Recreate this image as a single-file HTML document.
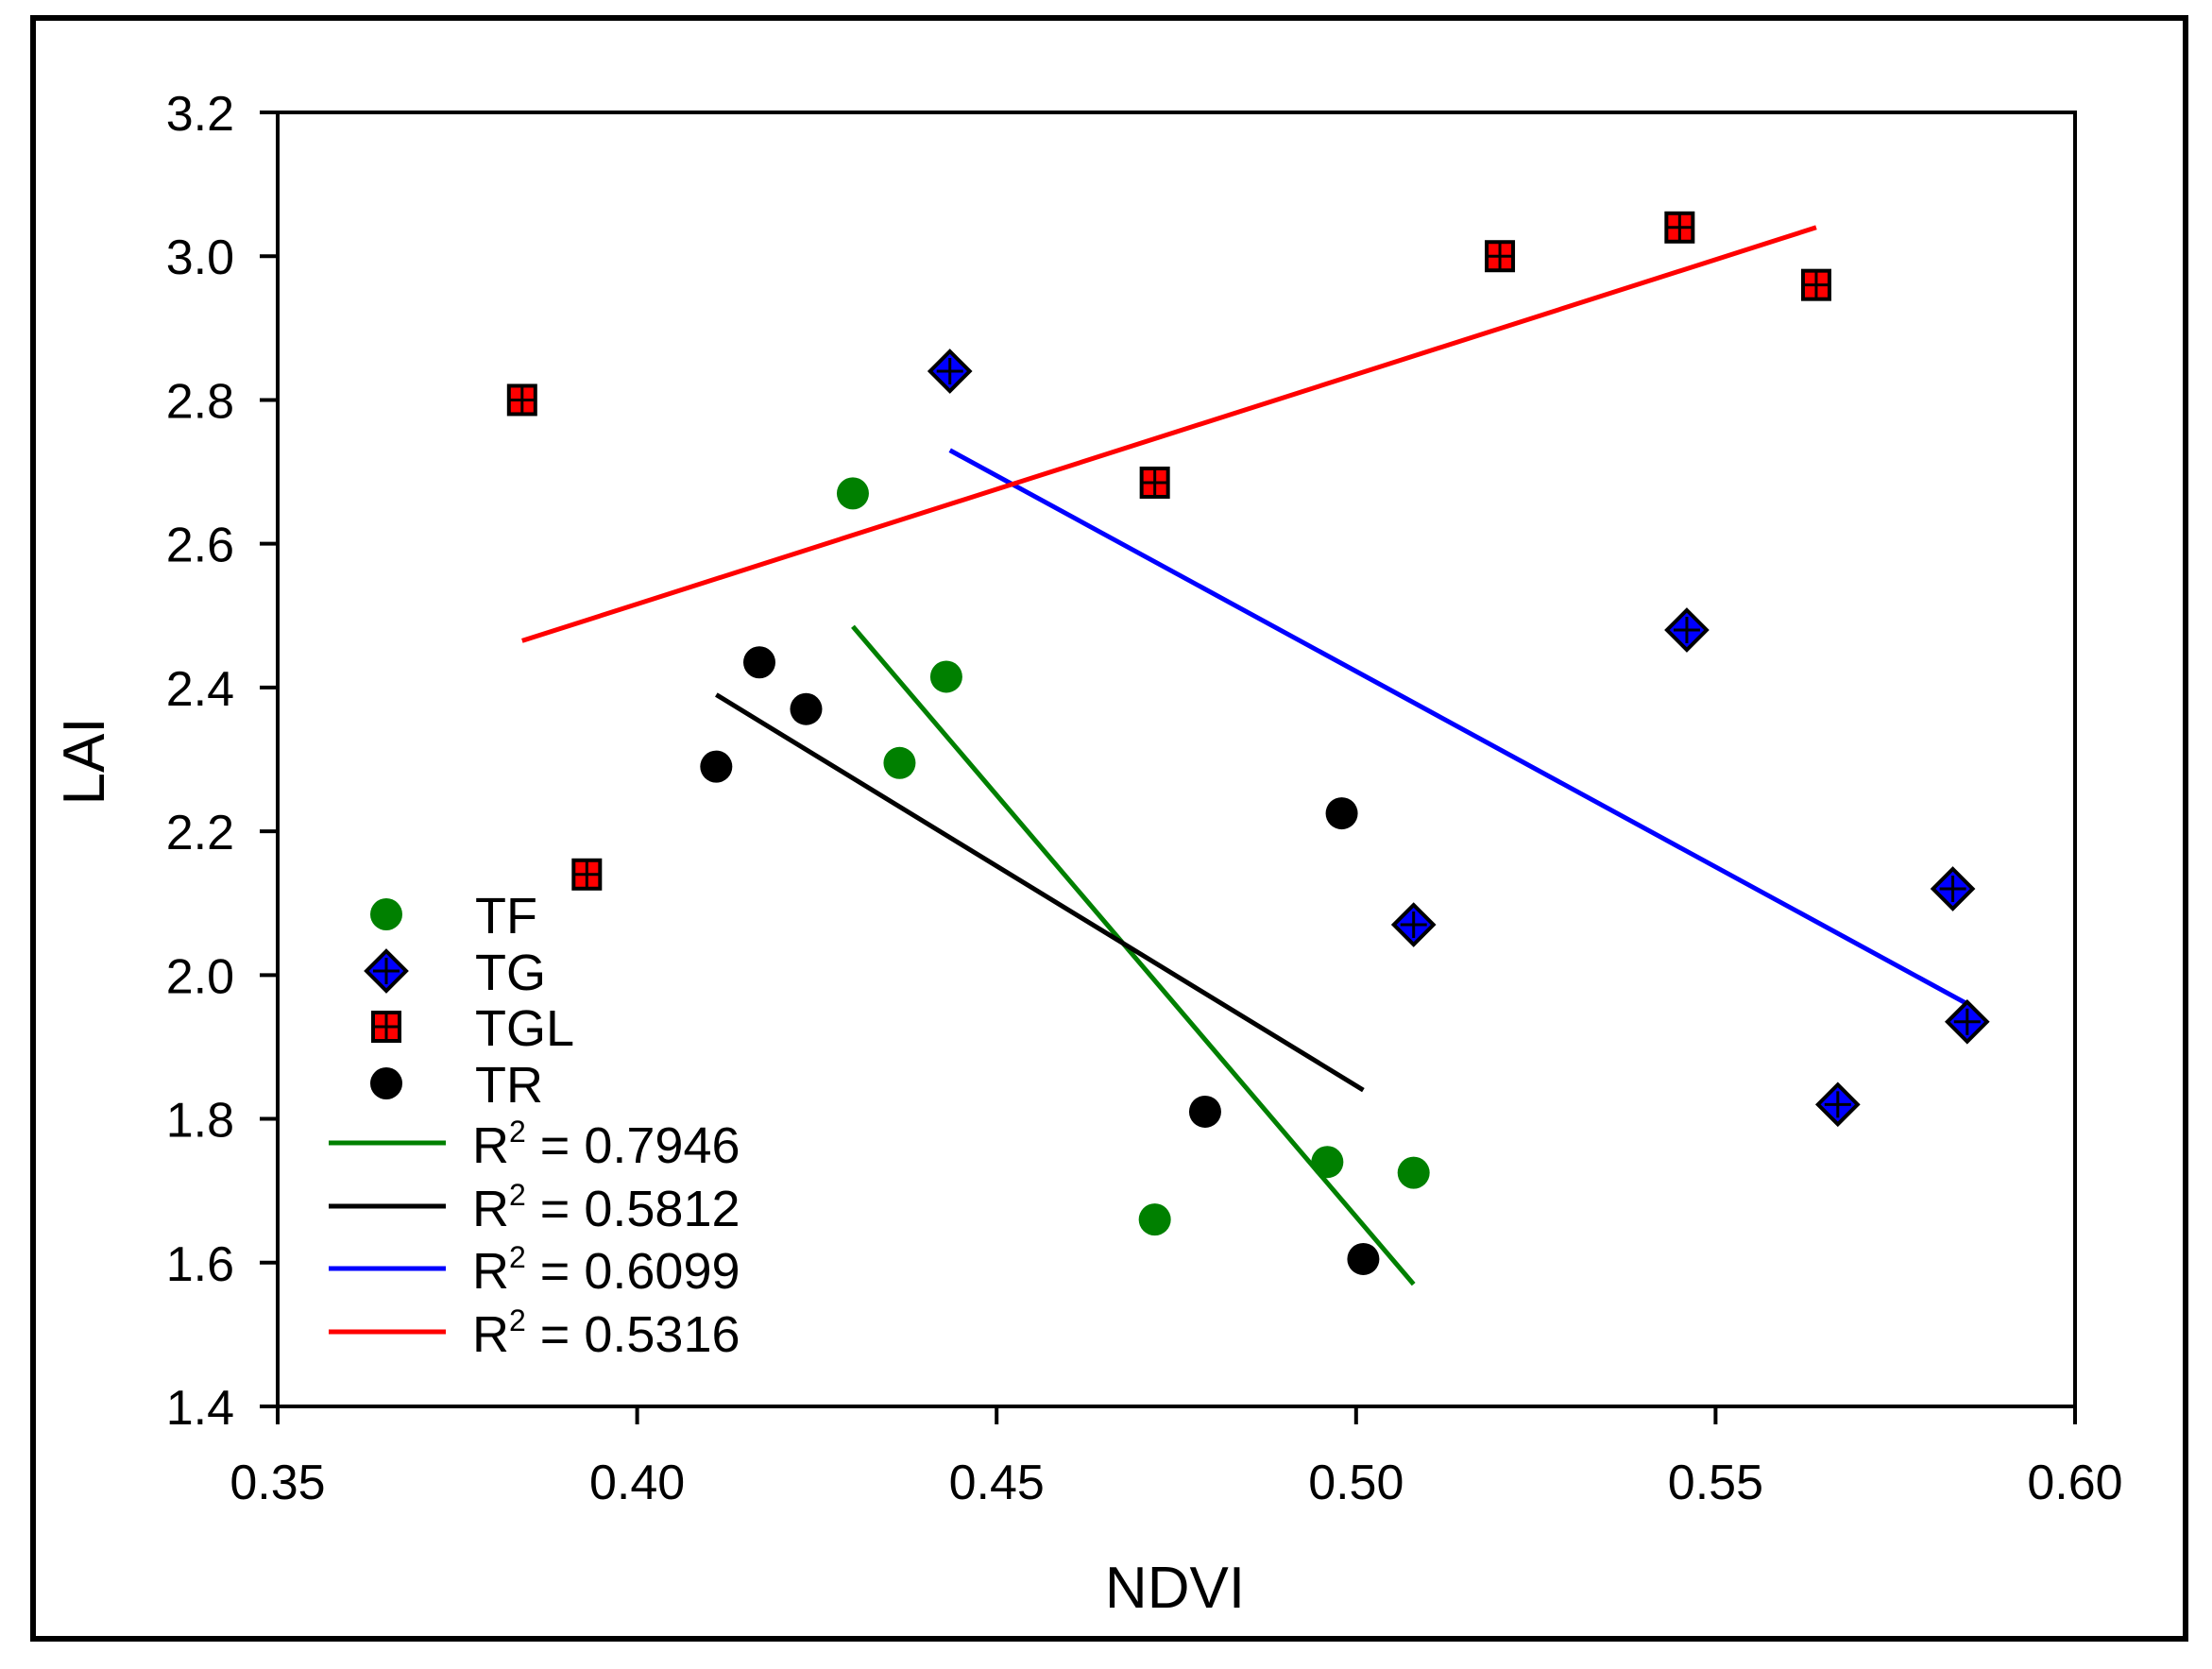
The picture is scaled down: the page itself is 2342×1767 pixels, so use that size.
<!DOCTYPE html>
<html><head><meta charset="utf-8"><style>
html,body{margin:0;padding:0;background:#fff;}
svg{display:block;font-family:"Liberation Sans",Arial,sans-serif;}
</style></head><body>
<svg id="chart" width="2342" height="1767" viewBox="0 0 2342 1767">
<rect x="35" y="19" width="2279" height="1716" fill="none" stroke="#000" stroke-width="6"/>
<rect x="294" y="119" width="1903" height="1370" fill="none" stroke="#000" stroke-width="4"/>
<g id="axes"></g><g id="lines"></g><g id="marks"></g><g id="legend"></g>
<text x="1244" y="1702" font-size="62" text-anchor="middle">NDVI</text>
<text x="110" y="806" font-size="62" text-anchor="middle" transform="rotate(-90 110 806)">LAI</text>
</svg>
<script>
const xTicks=[0.35,0.40,0.45,0.50,0.55,0.60];
const yTicks=[1.4,1.6,1.8,2.0,2.2,2.4,2.6,2.8,3.0,3.2];
const tfX=[0.430,0.4365,0.443,0.472,0.496,0.508];
const tfY=[2.67,2.295,2.415,1.66,1.74,1.725];
const tgX=[0.4435,0.508,0.546,0.567,0.583,0.585];
const tgY=[2.84,2.07,2.48,1.82,2.12,1.935];
const tglX=[0.384,0.393,0.472,0.520,0.545,0.564];
const tglY=[2.80,2.14,2.685,3.00,3.04,2.96];
const trX=[0.411,0.417,0.4235,0.479,0.498,0.501];
const trY=[2.29,2.435,2.37,1.81,2.225,1.605];
const fitTF=[[0.430,2.485],[0.508,1.57]];
const fitTR=[[0.411,2.39],[0.501,1.84]];
const fitTG=[[0.4435,2.73],[0.585,1.96]];
const fitTGL=[[0.384,2.465],[0.564,3.04]];
const r2Labels=["0.7946","0.5812","0.6099","0.5316"];
const NS="http://www.w3.org/2000/svg";
const X=v=>294+(v-0.35)/0.25*1903;
const Y=v=>1489-(v-1.4)/1.8*1370;
function mk(t,a,p){const e=document.createElementNS(NS,t);for(const k in a)e.setAttribute(k,a[k]);p.appendChild(e);return e;}
const axes=document.getElementById('axes');
xTicks.forEach(v=>{
 const l=mk('line',{x1:X(v),x2:X(v),y1:1489,y2:1508,stroke:'#000','stroke-width':4},axes);
 
 
 const t=mk('text',{x:X(v),y:1587,'font-size':52,'text-anchor':'middle'},axes);t.textContent=v.toFixed(2);
 
 
});
yTicks.forEach(v=>{
 const l=mk('line',{x1:275,x2:294,y1:Y(v),y2:Y(v),stroke:'#000','stroke-width':4},axes);
 
 
 const t=mk('text',{x:248,y:Y(v)+19,'font-size':52,'text-anchor':'end'},axes);t.textContent=v.toFixed(1);
 
 
});
const lines=document.getElementById('lines');
[[fitTF,'#008000','fit-line-tf'],[fitTR,'#000','fit-line-tr'],[fitTG,'#0000ff','fit-line-tg'],[fitTGL,'#ff0000','fit-line-tgl']].forEach(([f,c,n])=>{
 const l=mk('line',{x1:X(f[0][0]),y1:Y(f[0][1]),x2:X(f[1][0]),y2:Y(f[1][1]),stroke:c,'stroke-width':5},lines);
 
 
});
const marks=document.getElementById('marks');
function circle(cx,cy,col,p){return mk('circle',{cx:cx,cy:cy,r:17,fill:col},p);}
function diamond(cx,cy,p){const g=mk('g',{},p);
 mk('polygon',{points:`${cx},${cy-21} ${cx+21},${cy} ${cx},${cy+21} ${cx-21},${cy}`,fill:'#0000ff',stroke:'#000','stroke-width':4},g);
 mk('line',{x1:cx-14,x2:cx+14,y1:cy,y2:cy,stroke:'#000','stroke-width':3},g);
 mk('line',{x1:cx,x2:cx,y1:cy-14,y2:cy+14,stroke:'#000','stroke-width':3},g);return g;}
function square(cx,cy,p){const g=mk('g',{},p);
 mk('rect',{x:cx-14,y:cy-15,width:28,height:30,fill:'#ff0000',stroke:'#000','stroke-width':4},g);
 mk('line',{x1:cx-14,x2:cx+14,y1:cy,y2:cy,stroke:'#000','stroke-width':3},g);
 mk('line',{x1:cx,x2:cx,y1:cy-15,y2:cy+15,stroke:'#000','stroke-width':3},g);return g;}
tglX.forEach((v,i)=>{const e=square(X(v),Y(tglY[i]),marks);
 
 });
tgX.forEach((v,i)=>{const e=diamond(X(v),Y(tgY[i]),marks);
 
 });
tfX.forEach((v,i)=>{const e=circle(X(v),Y(tfY[i]),'#008000',marks);
 
 });
trX.forEach((v,i)=>{const e=circle(X(v),Y(trY[i]),'#000',marks);
 
 });
const lg=document.getElementById('legend');
const rowsY=[968,1028,1087,1147];
const names=['TF','TG','TGL','TR'];
names.forEach((n,i)=>{
 let m;
 if(i==0)m=circle(409,rowsY[i],'#008000',lg);
 else if(i==1)m=diamond(409,rowsY[i],lg);
 else if(i==2)m=square(409,rowsY[i],lg);
 else m=circle(409,rowsY[i],'#000',lg);
 
 
 const t=mk('text',{x:503,y:rowsY[i]+20,'font-size':54},lg);t.textContent=n;
 
 
});
const lineY=[1210,1277,1343,1410];const lineC=['#008000','#000','#0000ff','#ff0000'];
r2Labels.forEach((r,i)=>{
 const l=mk('line',{x1:348,x2:472,y1:lineY[i],y2:lineY[i],stroke:lineC[i],'stroke-width':5},lg);
 
 
 const t=mk('text',{x:500,y:lineY[i]+21,'font-size':54},lg);
 const a=mk('tspan',{},t);a.textContent='R';
 const b=mk('tspan',{dy:-22,'font-size':32},t);b.textContent='2';
 const c=mk('tspan',{dy:22},t);c.textContent=' = '+r;
 
 
});
</script>
</body></html>
